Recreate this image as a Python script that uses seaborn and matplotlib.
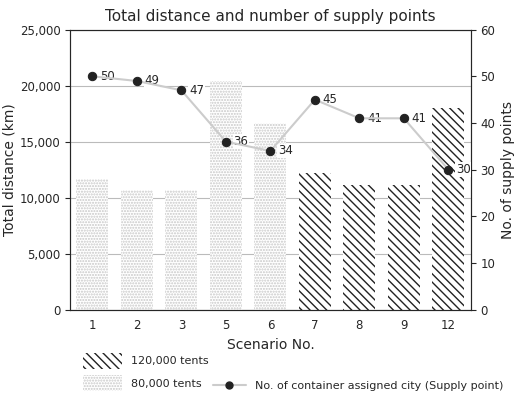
import matplotlib
matplotlib.use("Agg")
import matplotlib.pyplot as plt
import seaborn as sns
import pandas as pd
from matplotlib.patches import Patch
from matplotlib.lines import Line2D

scenarios = ["1", "2", "3", "5", "6", "7", "8", "9", "12"]
distance = [11700, 10700, 10700, 20400, 16700, 12200, 11100, 11100, 18000]
tents = ["80,000 tents"] * 5 + ["120,000 tents"] * 4
supply_points = [50, 49, 47, 36, 34, 45, 41, 41, 30]

sns.set_style("white")
plt.rcParams['font.family'] = ['DejaVu Sans']
fig = plt.figure(figsize=(5.2, 4.01), dpi=100)
ax = fig.add_axes([0.135, 0.228, 0.77, 0.698])
df = pd.DataFrame({"Scenario": scenarios, "Distance": distance})
sns.barplot(data=df, x="Scenario", y="Distance", ax=ax, width=0.72, color="white", zorder=2)
for p, t in zip(ax.patches, tents):
    if t.startswith("120"):
        p.set_facecolor("white"); p.set_edgecolor("#222222"); p.set_hatch("\\\\\\\\")
    else:
        p.set_facecolor("white"); p.set_edgecolor("#c8c8c8"); p.set_hatch("......")
    p.set_linewidth(0)
ax.set_ylim(0, 25000)
ax.set_yticks(range(0, 25001, 5000))
ax.set_yticklabels([f"{v:,}" for v in range(0, 25001, 5000)], fontsize=8.5)
ax.yaxis.grid(True, color="#bbbbbb", lw=0.8, zorder=0)
ax.set_axisbelow(True)
ax.set_xlabel("Scenario No.", fontsize=10)
ax.set_ylabel("Total distance (km)", fontsize=10, labelpad=2)
ax.tick_params(axis="x", labelsize=8.5)
for s in ax.spines.values():
    s.set_color("#555555")

ax2 = ax.twinx()
x = list(range(len(scenarios)))
sns.lineplot(x=x, y=supply_points, ax=ax2, color="#cccccc", lw=1.5, marker="o",
             markersize=6, markerfacecolor="#222222", markeredgecolor="#222222", zorder=5)
for xi, v in zip(x, supply_points):
    ax2.text(xi + 0.17, v, str(v), va="center", ha="left", fontsize=8.5,
             bbox=dict(facecolor="white", edgecolor="none", pad=0.5))
ax2.set_ylim(0, 60)
ax2.set_yticks(range(0, 61, 10))
ax2.tick_params(labelsize=8.5)
ax2.set_ylabel("No. of supply points", fontsize=10, labelpad=4)
ax.set_xlim(-0.5, 8.5)
ax.set_title("Total distance and number of supply points", fontsize=11)

h1 = Patch(facecolor="white", edgecolor="#222222", hatch="\\\\\\\\", lw=0)
h2 = Patch(facecolor="white", edgecolor="#c8c8c8", hatch="......", lw=0)
h3 = Line2D([], [], color="#cccccc", marker="o", markerfacecolor="#222222", markeredgecolor="#222222", markersize=5)
fig.legend([h1, h2], ["120,000 tents", "80,000 tents"], loc="lower left", bbox_to_anchor=(0.14, 0.0),
           frameon=False, fontsize=8, handlelength=3.5, handleheight=1.8, labelspacing=0.6)
fig.legend([h3], ["No. of container assigned city (Supply point)"], loc="lower left", bbox_to_anchor=(0.39, 0.0),
           frameon=False, fontsize=8, handlelength=3)
fig.savefig("out.png", dpi=100)
